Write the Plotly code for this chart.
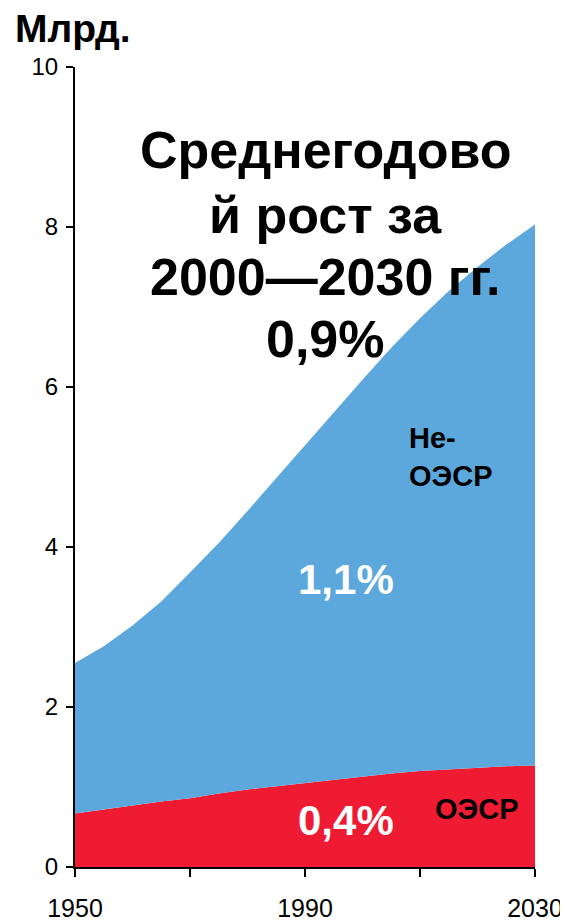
import plotly.graph_objects as go

years = [1950, 1955, 1960, 1965, 1970, 1975, 1980, 1985, 1990, 1995, 2000, 2005, 2010, 2015, 2020, 2025, 2030]
world_total = [2.55, 2.76, 3.02, 3.32, 3.68, 4.05, 4.45, 4.86, 5.27, 5.69, 6.09, 6.49, 6.86, 7.2, 7.5, 7.78, 8.03]
oecd = [0.67, 0.72, 0.77, 0.82, 0.86, 0.92, 0.97, 1.01, 1.05, 1.09, 1.13, 1.17, 1.20, 1.22, 1.24, 1.26, 1.27]

x_tickvals = [1950, 1970, 1990, 2010, 2030]
x_ticktext = ["1950", "", "1990", "", "2030"]
y_tickvals = [0, 2, 4, 6, 8, 10]

BLUE = "#5CA7DB"
RED = "#EE1B33"
FONT = "Liberation Sans, Arial, sans-serif"

fig = go.Figure()
fig.add_trace(go.Scatter(x=years, y=oecd, mode="lines", line=dict(width=0, color=RED),
                         fill="tozeroy", fillcolor=RED, hoverinfo="skip", showlegend=False))
fig.add_trace(go.Scatter(x=years, y=world_total, mode="lines", line=dict(width=0, color=BLUE),
                         fill="tonexty", fillcolor=BLUE, hoverinfo="skip", showlegend=False))

fig.update_layout(
    width=568, height=921,
    margin=dict(l=67, r=41, t=59, b=62),
    paper_bgcolor="white", plot_bgcolor="white",
    font=dict(family=FONT, color="black"),
    xaxis=dict(range=[1950, 2030], tickvals=x_tickvals, ticktext=x_ticktext, automargin=False,
               showgrid=False, zeroline=False, showline=True, linecolor="black", linewidth=2,
               ticks="outside", ticklen=8, tickwidth=2, tickcolor="black",
               tickfont=dict(size=25, family=FONT), ticklabelstandoff=10),
    yaxis=dict(range=[0, 10], tickvals=y_tickvals, automargin=False,
               showgrid=False, zeroline=False, showline=True, linecolor="black", linewidth=2,
               ticks="outside", ticklen=7, tickwidth=2, tickcolor="black",
               tickfont=dict(size=24, family=FONT), ticklabelstandoff=3),
)

title_lines = ["Среднегодово", "й рост за", "2000—2030 гг.", "0,9%"]
title_y = [8.96, 8.15, 7.37, 6.6]
for t, yy in zip(title_lines, title_y):
    fig.add_annotation(x=1993.5, y=yy, text="<b>%s</b>" % t, showarrow=False,
                       font=dict(size=52, family=FONT, color="black"), xanchor="center", yanchor="middle")

fig.add_annotation(xref="paper", yref="paper", x=-0.135, y=1.048, text="<b>Млрд.</b>", showarrow=False,
                   font=dict(size=39, family=FONT, color="black"), xanchor="left", yanchor="middle")

fig.add_annotation(x=2007.8, y=5.12, text="<b>Не-<br>ОЭСР</b>", showarrow=False, align="left",
                   font=dict(size=29, family=FONT, color="black"), xanchor="left", yanchor="middle")
fig.add_annotation(x=2019.8, y=0.73, text="<b>ОЭСР</b>", showarrow=False,
                   font=dict(size=29, family=FONT, color="black"), xanchor="center", yanchor="middle")
fig.add_annotation(x=1997.2, y=3.6, text="<b>1,1%</b>", showarrow=False,
                   font=dict(size=42, family=FONT, color="white"), xanchor="center", yanchor="middle")
fig.add_annotation(x=1997.2, y=0.58, text="<b>0,4%</b>", showarrow=False,
                   font=dict(size=42, family=FONT, color="white"), xanchor="center", yanchor="middle")

fig.write_html("out.html")
